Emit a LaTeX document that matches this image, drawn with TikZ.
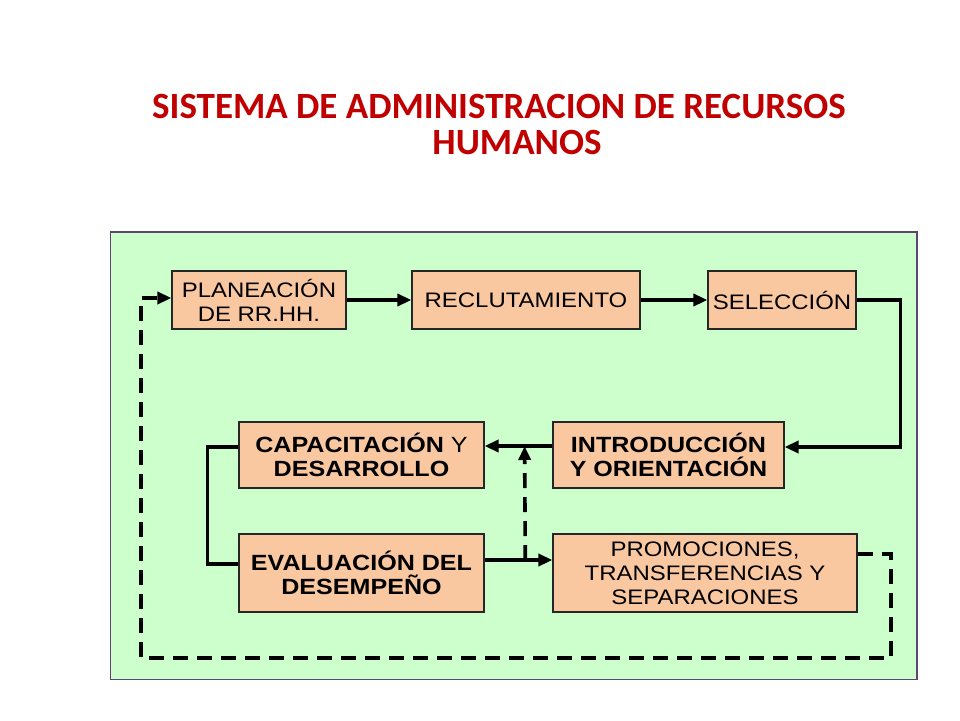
\documentclass[tikz,border=0pt]{standalone}
\usepackage{fontspec}
\setmainfont{Liberation Sans}
\newfontfamily\boxfont[FakeStretch=1.14]{Liberation Sans}
\newfontfamily\titlefont{Carlito}
\usetikzlibrary{arrows.meta}
\definecolor{titlered}{HTML}{C00000}
\definecolor{panelgreen}{HTML}{CCFFCC}
\definecolor{panelline}{HTML}{5E4470}
\definecolor{boxfill}{HTML}{FAC8A0}

\begin{document}
\begin{tikzpicture}[
    x=1pt, y=-1pt,
    box/.style={rectangle, draw=black!85, line width=1.2pt, fill=boxfill, align=center, inner sep=2pt, font=\boxfont\fontsize{21}{24}\selectfont},
    boldbox/.style={box, font=\boxfont\fontsize{22}{24}\selectfont\bfseries},
    flow/.style={line width=3.6pt, -{Triangle[length=14pt, width=12pt]}},
    link/.style={line width=3.6pt},
    back/.style={flow, dash pattern=on 15pt off 9pt}
]
\useasboundingbox (0,0) rectangle (960,720);
\fill[white] (0,0) rectangle (960,720);
\node[font=\titlefont\bfseries\fontsize{37}{36}\selectfont, text=titlered, align=center] (title) at (499,125)
    {SISTEMA DE ADMINISTRACION DE RECURSOS\\\hspace*{36pt}HUMANOS};
\draw[fill=panelgreen, draw=panelline, line width=1.4pt] (110.5,232) rectangle (917,679.5);

% upper row
\node[box, minimum width=174pt, minimum height=58pt] (plan) at (259,300) {PLANEACIÓN\\DE RR.HH.};
\node[box, minimum width=228pt, minimum height=58pt] (reclut) at (526,300) {RECLUTAMIENTO};
\node[box, minimum width=148pt, minimum height=58pt] (selec) at (782,300) {SELECCIÓN};

% middle row
\node[boldbox, minimum width=245pt, minimum height=66pt] (capac) at (361.5,455)
    {CAPACITACIÓN \mdseries Y\\DESARROLLO};
\node[boldbox, minimum width=231pt, minimum height=66pt] (intro) at (668.5,455) {INTRODUCCIÓN\\Y ORIENTACIÓN};

% lower row
\node[boldbox, minimum width=245pt, minimum height=78pt] (eval) at (361.5,573) {EVALUACIÓN DEL\\DESEMPEÑO};
\node[box, minimum width=304pt, minimum height=78pt] (promo) at (705,573)
    {PROMOCIONES,\\TRANSFERENCIAS Y\\SEPARACIONES};

% connectors
\coordinate (br) at (891,658);
\coordinate (bl) at (141,658);
\draw[flow] (plan) -- (reclut);
\draw[flow] (reclut) -- (selec);
\draw[flow] (selec.east) -- ++(44,0) |- ([yshift=8pt]intro.east);
\draw[flow] ([yshift=9pt]intro.west) -- coordinate[pos=0.41] (up) ([yshift=9pt]capac.east);
\draw[link] ([yshift=8pt]capac.west) -- ++(-31,0) |- ([yshift=9pt]eval.west);
\draw[flow] ([yshift=13pt]eval.east) -- coordinate[pos=0.6] (dn) ([yshift=13pt]promo.west);
\draw[back] (dn) -- (up);
\draw[back] ([yshift=19pt]promo.east) -| (br) -- (bl) |- ([yshift=2pt]plan.west);
\end{tikzpicture}
\end{document}
